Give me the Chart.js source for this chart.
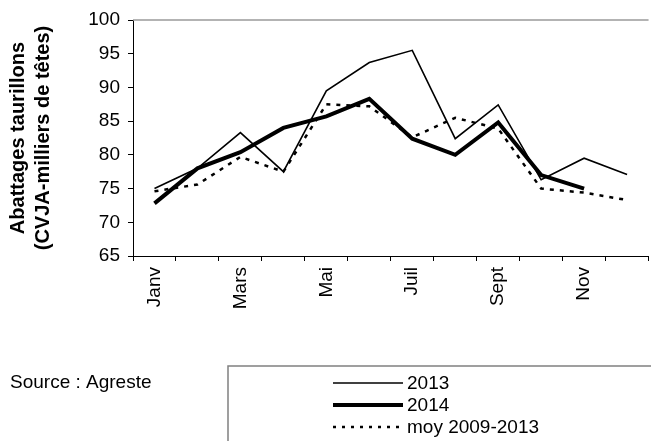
<!DOCTYPE html>
<html>
<head>
<meta charset="utf-8">
<script src="https://cdn.jsdelivr.net/npm/chart.js@4.4.1/dist/chart.umd.min.js"></script>
<style>
    html, body { margin: 0; padding: 0; background: #fff; overflow: hidden; }
    #wrap { position: relative; width: 656px; height: 441px; }
</style>
</head>
<body>
<div id="wrap"><canvas id="chart"></canvas></div>
<script>
'use strict'

// months on the x axis, only every other one gets a label
const months = ['Janv', 'Févr', 'Mars', 'Avr', 'Mai', 'Juin', 'Juil', 'Août', 'Sept', 'Oct', 'Nov', 'Déc']
const shownMonths = ['Janv', 'Mars', 'Mai', 'Juil', 'Sept', 'Nov']

// abattages taurillons, milliers de têtes
const values2013 = [75.0, 78.0, 83.3, 77.5, 89.5, 93.7, 95.5, 82.4, 87.4, 76.3, 79.5, 77.1]
const values2014 = [72.8, 78.0, 80.4, 84.0, 85.7, 88.3, 82.4, 80.0, 84.8, 77.0, 75.0, null]
const valuesMoy = [74.6, 75.6, 79.7, 77.5, 87.5, 87.2, 82.6, 85.5, 83.9, 75.0, 74.4, 73.3]

const yMin = 65
const yMax = 100
const yStep = 5

const fontFamily = '"Liberation Sans", Arial, sans-serif'
Chart.defaults.font.family = fontFamily
Chart.defaults.font.size = 19
Chart.defaults.color = '#000'

// grey frame line on top of the plot area
const frameTop = {
    id: 'frameTop',
    beforeDatasetsDraw(chart) {
        const { ctx, chartArea } = chart
        ctx.save()
        ctx.strokeStyle = '#9a9a9a'
        ctx.lineWidth = 1.5
        ctx.beginPath()
        ctx.moveTo(chartArea.left, chartArea.top)
        ctx.lineTo(chartArea.right, chartArea.top)
        ctx.stroke()
        ctx.restore()
    }
}

// source text and boxed legend under the chart
const boxLegend = {
    id: 'boxLegend',
    afterDraw(chart) {
        const ctx = chart.ctx
        ctx.save()
        ctx.font = '19px ' + fontFamily
        ctx.fillStyle = '#000'
        ctx.textBaseline = 'middle'
        ctx.textAlign = 'left'
        ctx.fillText('Source : Agreste', 10, 383)

        ctx.strokeStyle = '#808080'
        ctx.lineWidth = 1.5
        ctx.strokeRect(228, 366, 500, 120)

        chart.data.datasets.forEach((ds, i) => {
            const y = 383 + i * 22
            ctx.beginPath()
            ctx.strokeStyle = ds.borderColor
            ctx.lineWidth = ds.borderWidth
            ctx.setLineDash(ds.legendDash || ds.borderDash || [])
            ctx.moveTo(333, y)
            ctx.lineTo(403, y)
            ctx.stroke()
            ctx.setLineDash([])
            ctx.fillText(ds.label, 407, y + 1)
        })
        ctx.restore()
    }
}

const config = {
    type: 'line',
    data: {
        labels: months,
        datasets: [{
            label: '2013',
            data: values2013,
            borderColor: '#000',
            borderWidth: 1.6,
            pointRadius: 0,
            tension: 0
        }, {
            label: '2014',
            data: values2014,
            borderColor: '#000',
            borderWidth: 4,
            pointRadius: 0,
            tension: 0
        }, {
            label: 'moy 2009-2013',
            data: valuesMoy,
            borderColor: '#000',
            borderWidth: 2.5,
            borderDash: [4, 6],
            legendDash: [3, 6],
            pointRadius: 0,
            tension: 0
        }]
    },
    options: {
        responsive: true,
        maintainAspectRatio: false,
        animation: false,
        layout: { padding: { top: 20, right: 3, bottom: 0, left: 0 } },
        plugins: {
            legend: { display: false },
            tooltip: { enabled: false }
        },
        scales: {
            x: {
                offset: true,
                grid: { offset: true, drawOnChartArea: false, tickLength: 5, color: '#000' },
                border: { color: '#000', width: 1 },
                ticks: {
                    autoSkip: false,
                    maxRotation: 90,
                    minRotation: 90,
                    padding: 6,
                    callback: function (value) {
                        let label = this.getLabelForValue(value)
                        return shownMonths.includes(label) ? label : ''
                    }
                },
                afterFit: scale => { scale.height = 185 }
            },
            y: {
                min: yMin,
                max: yMax,
                grid: { drawOnChartArea: false, tickLength: 5, color: '#000' },
                border: { color: '#000', width: 1 },
                ticks: { stepSize: yStep, padding: 8 },
                title: {
                    display: true,
                    text: ['Abattages taurillons', '(CVJA-milliers de têtes)'],
                    font: { size: 20, weight: 'bold', lineHeight: 1.25 },
                    padding: { top: 6, bottom: 0 }
                },
                afterFit: scale => { scale.width = 133 }
            }
        }
    },
    plugins: [frameTop, boxLegend]
}

let ctx = document.getElementById('chart').getContext('2d')
let myChart = new Chart(ctx, config)
</script>
</body>
</html>
